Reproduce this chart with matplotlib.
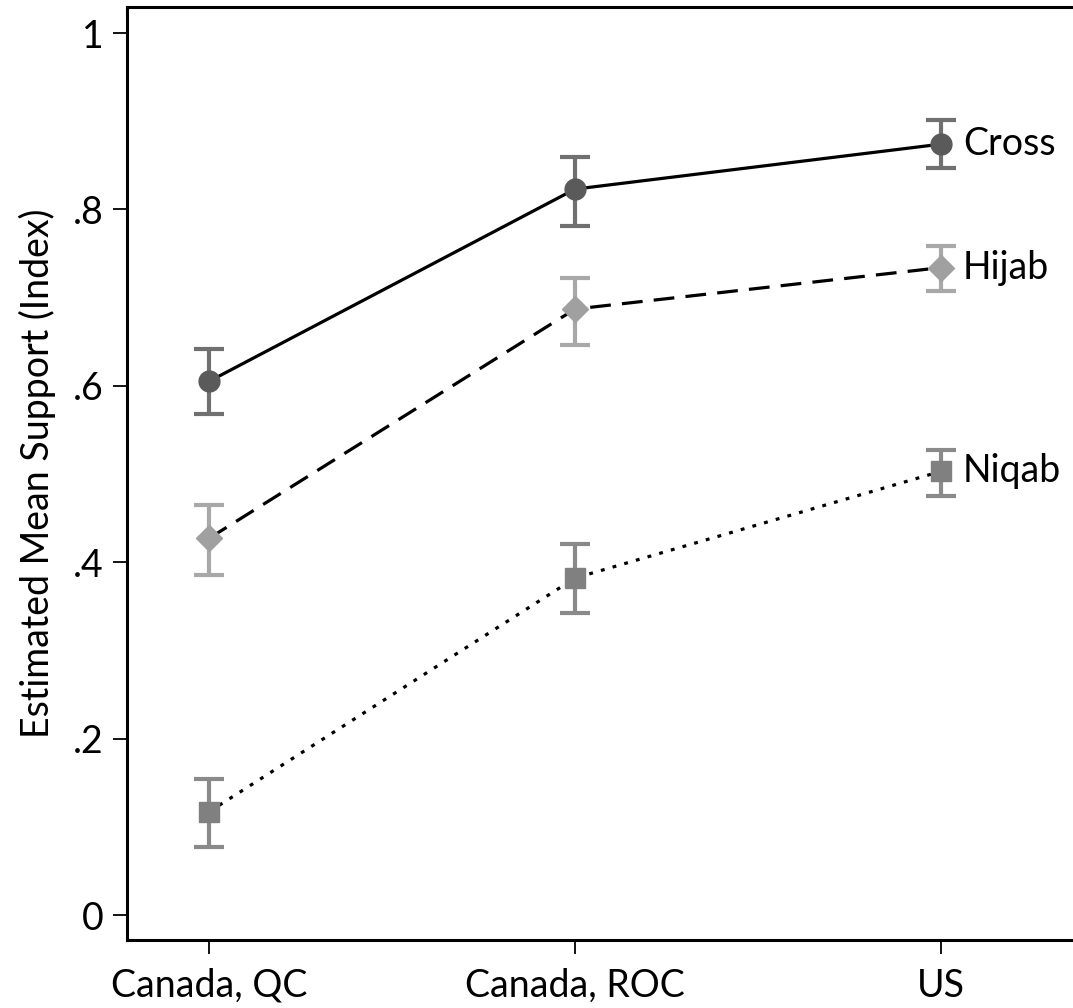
import matplotlib.pyplot as plt
import numpy as np

plt.rcParams["font.family"] = ["Lato", "DejaVu Sans"]

regions = ["Canada, QC", "Canada, ROC", "US"]
symbols = ["Cross", "Hijab", "Niqab"]

# estimated mean support and 95% interval bounds per region
cross_mean = [0.605, 0.823, 0.874]
cross_lo = [0.568, 0.781, 0.847]
cross_hi = [0.642, 0.859, 0.901]

hijab_mean = [0.427, 0.687, 0.734]
hijab_lo = [0.385, 0.646, 0.707]
hijab_hi = [0.465, 0.722, 0.758]

niqab_mean = [0.117, 0.382, 0.503]
niqab_lo = [0.077, 0.342, 0.475]
niqab_hi = [0.154, 0.421, 0.527]

yticks = [0, 0.2, 0.4, 0.6, 0.8, 1]
ytick_labels = ["0", ".2", ".4", ".6", ".8", "1"]

styles = {
    "Cross": dict(marker="o", ms=15, mc="#5a5a5a", ec="#707070", ls="-"),
    "Hijab": dict(marker="D", ms=13, mc="#a0a0a0", ec="#a8a8a8", ls=(0, (6.5, 3.5))),
    "Niqab": dict(marker="s", ms=14, mc="#808080", ec="#8a8a8a", ls=(0, (1.2, 2.6))),
}
series = {
    "Cross": (cross_mean, cross_lo, cross_hi),
    "Hijab": (hijab_mean, hijab_lo, hijab_hi),
    "Niqab": (niqab_mean, niqab_lo, niqab_hi),
}

FS = 27

fig = plt.figure(figsize=(10.73, 10.08), dpi=100)
ax = fig.add_axes([127 / 1073, 68 / 1008, 953 / 1073, 933 / 1008])

x = np.arange(1, len(regions) + 1)
for name in symbols:
    mean, lo, hi = (np.array(v) for v in series[name])
    st = styles[name]
    ax.plot(x, mean, color="black", lw=2.3, ls=st["ls"], zorder=2)
    ax.errorbar(x, mean, yerr=[mean - lo, hi - mean], fmt="none",
                ecolor=st["ec"], elinewidth=3, capsize=10.5, capthick=3, zorder=3)
    ax.plot(x, mean, ls="none", marker=st["marker"], ms=st["ms"],
            mfc=st["mc"], mec=st["mc"], zorder=4)
    ax.text(x[-1] + 0.06, mean[-1], name, fontsize=FS, va="center", ha="left")

ax.set_xlim(1 - 82 / 366, 3 + 139 / 366)
ax.set_ylim(-25 / 882, 1 + 26 / 882)
ax.set_xticks(x)
ax.set_xticklabels(regions, fontsize=FS)
ax.set_yticks(yticks)
ax.set_yticklabels(ytick_labels, fontsize=FS)
ax.set_ylabel("Estimated Mean Support (Index)", fontsize=FS, labelpad=12)

for sp in ax.spines.values():
    sp.set_linewidth(2.2)
ax.tick_params(axis="both", length=10, width=1.3, pad=7)
ax.tick_params(axis="x", pad=10)

fig.savefig("out.png", dpi=100)
